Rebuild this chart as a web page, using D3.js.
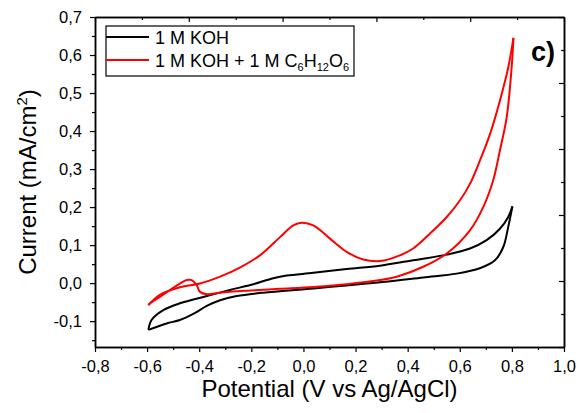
<!DOCTYPE html>
<html>
<head>
<meta charset="utf-8">
<script src="https://cdn.jsdelivr.net/npm/d3@7"></script>
<style>
  body { margin: 0; background: #fff; }
  svg { font-family: "Liberation Sans", Arial, sans-serif; }
</style>
</head>
<body>
<script>
// CV data: [potential (V), current (mA/cm2)]
const kohForward = [
  [-0.595, -0.123], [-0.583, -0.097], [-0.538, -0.071], [-0.474, -0.053],
  [-0.371, -0.034], [-0.282, -0.018], [-0.193, -0.003], [-0.116, 0.013],
  [-0.064, 0.020], [0.038, 0.027], [0.166, 0.037], [0.294, 0.046],
  [0.421, 0.060], [0.550, 0.075], [0.639, 0.091], [0.703, 0.113],
  [0.754, 0.143], [0.786, 0.174], [0.802, 0.202]
];
const kohReverse = [
  [0.802, 0.202], [0.786, 0.148], [0.767, 0.095], [0.735, 0.060],
  [0.677, 0.039], [0.588, 0.025], [0.460, 0.015], [0.294, 0.002],
  [0.038, -0.014], [-0.154, -0.025], [-0.256, -0.034], [-0.320, -0.045],
  [-0.371, -0.060], [-0.423, -0.081], [-0.474, -0.097], [-0.525, -0.106],
  [-0.595, -0.123]
];
const glucForward = [
  [-0.595, -0.058], [-0.551, -0.031], [-0.474, -0.011], [-0.397, -0.001],
  [-0.320, 0.017], [-0.244, 0.041], [-0.167, 0.073], [-0.090, 0.121],
  [-0.039, 0.152], [-0.007, 0.159], [0.038, 0.152], [0.102, 0.117],
  [0.166, 0.082], [0.230, 0.062], [0.294, 0.058], [0.370, 0.073],
  [0.421, 0.091], [0.485, 0.130], [0.550, 0.174], [0.601, 0.218],
  [0.639, 0.261], [0.677, 0.322], [0.716, 0.392], [0.754, 0.480],
  [0.786, 0.567], [0.806, 0.645]
];
const glucReverse = [
  [0.806, 0.645], [0.799, 0.567], [0.780, 0.436], [0.754, 0.349],
  [0.728, 0.270], [0.690, 0.200], [0.639, 0.139], [0.550, 0.078],
  [0.460, 0.043], [0.358, 0.017], [0.294, 0.008], [0.166, -0.003],
  [0.038, -0.010], [-0.090, -0.015], [-0.218, -0.020], [-0.320, -0.025],
  [-0.371, -0.029], [-0.397, -0.023], [-0.410, -0.005], [-0.429, 0.008],
  [-0.448, 0.008], [-0.474, -0.001], [-0.512, -0.018], [-0.551, -0.036],
  [-0.589, -0.053], [-0.595, -0.058]
];

const xMajor = [-0.8, -0.6, -0.4, -0.2, 0.0, 0.2, 0.4, 0.6, 0.8, 1.0];
const xMinor = [-0.7, -0.5, -0.3, -0.1, 0.1, 0.3, 0.5, 0.7, 0.9];
const yMajor = [-0.1, 0.0, 0.1, 0.2, 0.3, 0.4, 0.5, 0.6, 0.7];
const yMinor = [-0.15, -0.05, 0.05, 0.15, 0.25, 0.35, 0.45, 0.55, 0.65];
const legendLabels = ["1 M KOH", "1 M KOH + 1 M C6H12O6"];

const margin = { top: 17, right: 23, bottom: 66, left: 95 };
const W = 587, H = 413;
const width = W - margin.left - margin.right;
const height = H - margin.top - margin.bottom;

const svg = d3.select("body").append("svg")
  .attr("width", W)
  .attr("height", H);

const g = svg.append("g")
  .attr("transform", "translate(" + margin.left + "," + margin.top + ")");

const x = d3.scaleLinear().domain([-0.8, 1.0]).range([0, width]);
const y = d3.scaleLinear().domain([-0.168, 0.7]).range([height, 0]);
// opposite axes of the frame carry their own unlabeled ticks
const xTop = d3.scaleLinear().domain([0, 10]).range([0, width]);
const yRight = d3.scaleLinear().domain([0, 10]).range([height, 0]);

const loc = d3.formatLocale({ decimal: ",", thousands: ".", grouping: [3], currency: ["", ""], minus: "-" });
const fmt = loc.format(".1f");

// bottom axis
g.append("g")
  .attr("transform", "translate(0," + height + ")")
  .call(d3.axisBottom(x).tickValues(xMinor).tickSize(3).tickFormat("").tickSizeOuter(0));
g.append("g")
  .attr("class", "xaxis")
  .attr("transform", "translate(0," + height + ")")
  .call(d3.axisBottom(x).tickValues(xMajor).tickSize(5).tickPadding(8).tickFormat(fmt).tickSizeOuter(0));

// left axis
g.append("g")
  .call(d3.axisLeft(y).tickValues(yMinor).tickSize(3).tickFormat("").tickSizeOuter(0));
g.append("g")
  .attr("class", "yaxis")
  .call(d3.axisLeft(y).tickValues(yMajor).tickSize(5).tickPadding(8).tickFormat(fmt).tickSizeOuter(0));

// top axis, ticks inward
g.append("g")
  .call(d3.axisTop(xTop).tickValues([1, 3, 5, 7, 9]).tickSize(-3).tickFormat("").tickSizeOuter(0));
g.append("g")
  .call(d3.axisTop(xTop).tickValues([0, 2, 4, 6, 8, 10]).tickSize(-5).tickFormat("").tickSizeOuter(0));

// right axis, ticks inward
g.append("g")
  .attr("transform", "translate(" + width + ",0)")
  .call(d3.axisRight(yRight).tickValues([1, 3, 5, 7, 9]).tickSize(-3).tickFormat("").tickSizeOuter(0));
g.append("g")
  .attr("transform", "translate(" + width + ",0)")
  .call(d3.axisRight(yRight).tickValues([0, 2, 4, 6, 8, 10]).tickSize(-5).tickFormat("").tickSizeOuter(0));

g.selectAll(".domain").attr("stroke", "#000").attr("stroke-width", 1.5);
g.selectAll(".tick line").attr("stroke", "#000").attr("stroke-width", 1.2);
g.selectAll(".tick text").style("font-size", "16.5px").attr("fill", "#000");

// curves
const line = d3.line()
  .x(d => x(d[0]))
  .y(d => y(d[1]))
  .curve(d3.curveCatmullRom.alpha(0.5));

const series = [
  { name: legendLabels[0], color: "#000000", parts: [kohForward, kohReverse] },
  { name: legendLabels[1], color: "#ff0000", parts: [glucForward, glucReverse] }
];

series.forEach(s => {
  s.parts.forEach(p => {
    g.append("path")
      .datum(p)
      .attr("fill", "none")
      .attr("stroke", s.color)
      .attr("stroke-width", 2)
      .attr("stroke-linejoin", "round")
      .attr("d", line);
  });
});

// legend
const leg = svg.append("g").attr("transform", "translate(106,26)");
leg.append("rect")
  .attr("width", 248).attr("height", 50)
  .attr("fill", "#fff").attr("stroke", "#000").attr("stroke-width", 1.2);

series.forEach((s, i) => {
  const yy = 11 + i * 23;
  leg.append("line")
    .attr("x1", 0).attr("x2", 43)
    .attr("y1", yy).attr("y2", yy)
    .attr("stroke", s.color).attr("stroke-width", 2);
});

leg.append("text")
  .attr("x", 49).attr("y", 17.5)
  .style("font-size", "18px")
  .text(legendLabels[0]);

const t2 = leg.append("text")
  .attr("x", 49).attr("y", 40.5)
  .style("font-size", "18px");
t2.append("tspan").text("1 M KOH + 1 M C");
t2.append("tspan").attr("dy", 4).style("font-size", "11px").text("6");
t2.append("tspan").attr("dy", -4).text("H");
t2.append("tspan").attr("dy", 4).style("font-size", "11px").text("12");
t2.append("tspan").attr("dy", -4).text("O");
t2.append("tspan").attr("dy", 4).style("font-size", "11px").text("6");

// panel label
svg.append("text")
  .attr("x", 531).attr("y", 61)
  .style("font-size", "27px")
  .style("font-weight", "bold")
  .text("c)");

// axis titles
svg.append("text")
  .attr("x", margin.left + width / 2).attr("y", 397)
  .attr("text-anchor", "middle")
  .style("font-size", "24px")
  .text("Potential (V vs Ag/AgCl)");

const yt = svg.append("text")
  .attr("transform", "translate(36," + (margin.top + height / 2) + ") rotate(-90)")
  .attr("text-anchor", "middle")
  .style("font-size", "24px");
yt.append("tspan").text("Current (mA/cm");
yt.append("tspan").attr("dy", -9).style("font-size", "15px").text("2");
yt.append("tspan").attr("dy", 9).text(")");
</script>
</body>
</html>
